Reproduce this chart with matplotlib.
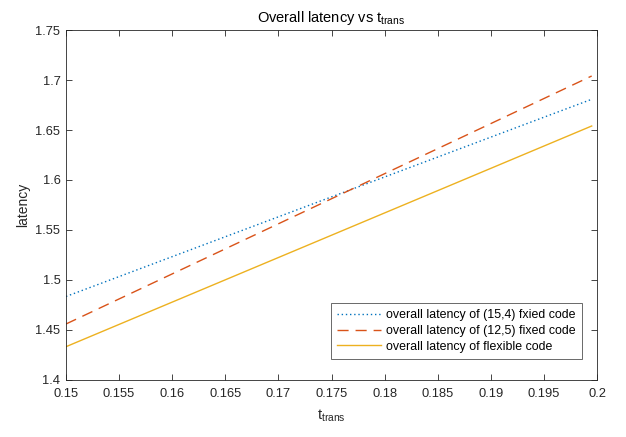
import numpy as np
import matplotlib.pyplot as plt

# Data
t_trans = [0.15, 0.1995]
lat_15_4 = [1.4835, 1.6807]
lat_12_5 = [1.4560, 1.7040]
lat_flex = [1.4333, 1.6540]

labels = [
    'overall latency of (15,4) fxied code',
    'overall latency of (12,5) fixed code',
    'overall latency of flexible code',
]

x_ticks = [0.15, 0.155, 0.16, 0.165, 0.17, 0.175, 0.18, 0.185, 0.19, 0.195, 0.2]
x_tick_labels = ['0.15', '0.155', '0.16', '0.165', '0.17', '0.175', '0.18',
                 '0.185', '0.19', '0.195', '0.2']
y_ticks = [1.4, 1.45, 1.5, 1.55, 1.6, 1.65, 1.7, 1.75]
y_tick_labels = ['1.4', '1.45', '1.5', '1.55', '1.6', '1.65', '1.7', '1.75']


def main():
    plt.rcParams['font.family'] = ['Liberation Sans', 'DejaVu Sans']
    plt.rcParams['mathtext.fontset'] = 'custom'
    plt.rcParams['mathtext.rm'] = 'Liberation Sans'

    fig = plt.figure(figsize=(6.26, 4.37), dpi=100)
    ax = fig.add_axes([66 / 626, 1 - 380 / 437, 531 / 626, 350 / 437])

    ax.plot(t_trans, lat_15_4, linestyle=(0, (1, 2)), color='#0072BD',
            linewidth=1.0, label=labels[0])
    ax.plot(t_trans, lat_12_5, linestyle=(0, (8, 5)), color='#D95319',
            linewidth=1.0, label=labels[1])
    ax.plot(t_trans, lat_flex, linestyle='-', color='#EDB120',
            linewidth=1.0, label=labels[2])

    # Axes styling (MATLAB-like)
    ax.set_xlim(0.15, 0.2)
    ax.set_ylim(1.4, 1.75)
    ax.set_xticks(x_ticks, x_tick_labels)
    ax.set_yticks(y_ticks, y_tick_labels)
    ax.tick_params(direction='in', top=True, right=True, length=4,
                   width=0.6, labelsize=9.3, colors='#262626')
    ax.tick_params(axis='x', pad=6)
    ax.tick_params(axis='y', pad=4)
    for s in ax.spines.values():
        s.set_color('#262626')
        s.set_linewidth(0.6)

    ax.set_title(r'Overall latency vs $\mathregular{t_{trans}}$',
                 fontsize=10.5, color='black', pad=6)
    ax.set_xlabel(r'$\mathregular{t_{trans}}$', fontsize=10.5, color='#262626',
                  labelpad=5)
    ax.set_ylabel('latency', fontsize=10, color='#262626', labelpad=4)

    leg = ax.legend(loc='lower right', fontsize=8.9, frameon=True,
                    fancybox=False, edgecolor='#262626', handlelength=3.6,
                    handletextpad=0.4, borderpad=0.5, labelspacing=0.3,
                    borderaxespad=0, bbox_to_anchor=(0.972, 0.06))
    leg.get_frame().set_linewidth(0.6)

    fig.savefig('out.png', dpi=100)


if __name__ == '__main__':
    main()
